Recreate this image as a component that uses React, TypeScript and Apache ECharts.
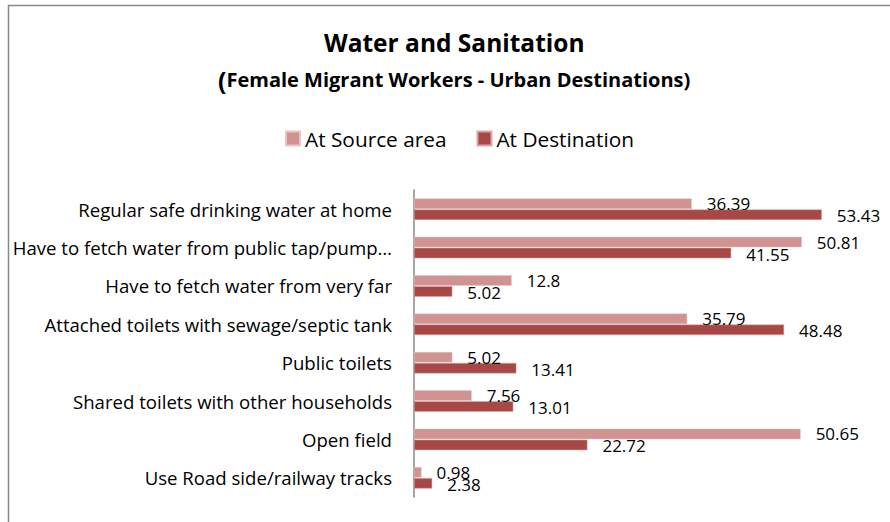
import React, { useEffect, useRef } from "react";
import * as echarts from "echarts";

const categories = [
  "Regular safe drinking water at home",
  "Have to fetch water from public tap/pump…",
  "Have to fetch water from very far",
  "Attached toilets with sewage/septic tank",
  "Public toilets",
  "Shared toilets with other households",
  "Open field",
  "Use Road side/railway tracks",
];
const sourceValues = [36.39, 50.81, 12.8, 35.79, 5.02, 7.56, 50.65, 0.98];
const destinationValues = [53.43, 41.55, 5.02, 48.48, 13.41, 13.01, 22.72, 2.38];
const seriesNames = ["At Source area", "At Destination"];
const titleText = "Water and Sanitation";
const subtitleText = "Female Migrant Workers - Urban Destinations)";

const FONT = "'Open Sans', Lato, sans-serif";

export default function App() {
  const ref = useRef<HTMLDivElement>(null);
  useEffect(() => {
    if (!ref.current) return;
    const chart = echarts.init(ref.current, undefined, { renderer: "svg" });
    chart.setOption({
      animation: false,
      textStyle: { fontFamily: FONT },
      title: [
        {
          text: titleText,
          left: 319,
          top: 25,
          textStyle: { fontFamily: FONT, fontSize: 24.5, fontWeight: "bold", color: "#000" },
        },
        {
          text: "{p|(}{t|" + subtitleText + "}",
          left: 213,
          top: 62,
          textStyle: {
            fontFamily: FONT,
            rich: {
              p: { fontFamily: FONT, fontSize: 25, fontWeight: "bold", color: "#000" },
              t: { fontFamily: FONT, fontSize: 20, fontWeight: "bold", color: "#000" },
            },
          },
        },
      ],
      legend: {
        top: 123,
        left: 280,
        icon: "rect",
        itemWidth: 14,
        itemHeight: 14,
        itemGap: 30,
        textStyle: { fontFamily: FONT, fontSize: 20.8, color: "#000" },
        data: seriesNames,
      },
      grid: { left: 414, right: 18, top: 190, bottom: 25, containLabel: false },
      xAxis: {
        type: "value",
        min: 0,
        max: 60,
        show: false,
        splitLine: { show: false },
      },
      yAxis: {
        type: "category",
        data: categories,
        inverse: true,
        axisLine: { show: true, lineStyle: { color: "#888", width: 1.5 } },
        axisTick: { show: false },
        axisLabel: { fontFamily: FONT, fontSize: 18.6, color: "#000", margin: 22 },
      },
      series: [
        {
          name: seriesNames[0],
          type: "bar",
          data: sourceValues,
          barWidth: 10.5,
          barGap: "5%",
          itemStyle: { color: "#D19292", borderColor: "#E9C4C4", borderWidth: 0.5 },
          label: {
            show: true,
            position: "right",
            distance: 15,
            fontFamily: FONT,
            fontSize: 17,
            color: "#000",
          },
        },
        {
          name: seriesNames[1],
          type: "bar",
          data: destinationValues,
          barWidth: 10.5,
          barGap: "5%",
          itemStyle: { color: "#A84846", borderColor: "#D8A8A8", borderWidth: 0.5 },
          label: {
            show: true,
            position: "right",
            distance: 15,
            offset: [0, 1],
            fontFamily: FONT,
            fontSize: 17,
            color: "#000",
          },
        },
      ],
      graphic: [
        {
          type: "rect",
          shape: { x: 8.5, y: 5.5, width: 900, height: 600 },
          style: { fill: "none", stroke: "#888", lineWidth: 1.5 },
          silent: true,
        },
      ],
    });
    return () => chart.dispose();
  }, []);
  return <div ref={ref} style={{ width: 890, height: 522, position: "absolute", left: 0, top: 0 }} />;
}
